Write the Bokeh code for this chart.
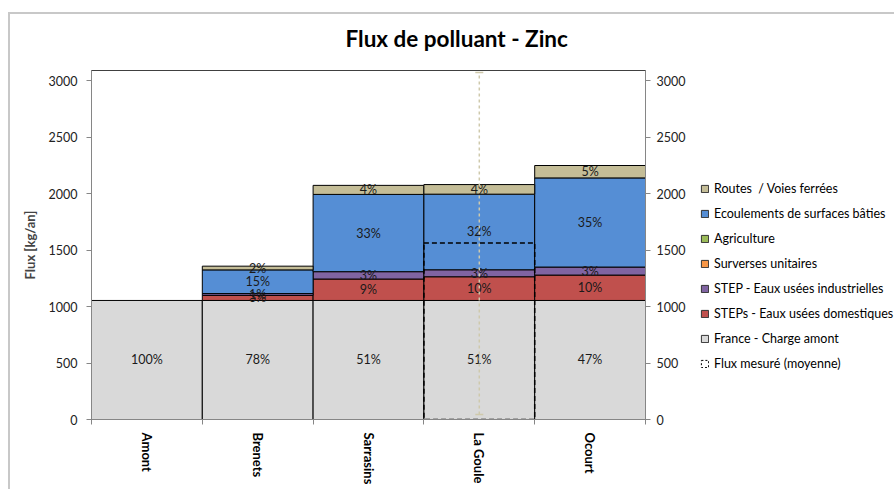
import numpy as np
from bokeh.plotting import figure
from bokeh.layouts import row
from bokeh.models import (ColumnDataSource, Range1d, LinearAxis, FixedTicker, Legend,
                          LegendItem, Whisker, TeeHead, InlineStyleSheet)
from bokeh.core.properties import value
from bokeh.embed import file_html
from bokeh.resources import INLINE

# ---------------- data ----------------
categories = ["Amont", "Brenets", "Sarrasins", "La Goule", "Ocourt"]
france_amont = [1055, 1055, 1055, 1055, 1055]
steps_domestiques = [0, 45, 190, 210, 225]
step_industrielles = [0, 16, 65, 62, 71]
surverses = [0, 0, 0, 0, 0]
agriculture = [0, 0, 0, 0, 0]
ecoulements = [0, 210, 685, 670, 790]
routes = [0, 33, 80, 85, 110]

mesure_site = ["La Goule"]
mesure_moyenne = [1565]
mesure_bas = [45]
mesure_haut = [3075]

y_ticks = [0, 500, 1000, 1500, 2000, 2500, 3000]

series_names = ["France - Charge amont", "STEPs - Eaux usées domestiques",
                "STEP - Eaux usées industrielles", "Surverses unitaires",
                "Agriculture", "Ecoulements de surfaces bâties",
                "Routes  / Voies ferrées"]
series_values = [france_amont, steps_domestiques, step_industrielles, surverses,
                 agriculture, ecoulements, routes]
series_colors = ["#D9D9D9", "#C0504D", "#8064A2", "#F79646", "#9BBB59",
                 "#558ED5", "#C4BD97"]

FONT = "Lato"
H = 489
W1 = 690
W2 = 204

# ---------------- sources ----------------
xs = list(range(len(categories)))
keys = ["s%d" % i for i in range(len(series_values))]
akeys = ["a%d" % i for i in range(len(series_values))]
data = {"x": xs}
for k, a, v in zip(keys, akeys, series_values):
    data[k] = v
    data[a] = [1.0 if float(t) > 0 else 0.0 for t in v]
src = ColumnDataSource(data)

totals = np.sum(np.array(series_values, dtype=float), axis=0)
lab_x, lab_y, lab_t = [], [], []
for ci in range(len(categories)):
    bottom = 0.0
    for v in series_values:
        val = float(v[ci])
        if val > 0:
            lab_x.append(xs[ci])
            lab_y.append(bottom + val / 2.0)
            lab_t.append("%d%%" % round(100.0 * val / totals[ci]))
        bottom += val
lab_src = ColumnDataSource(dict(x=lab_x, y=lab_y, t=lab_t))

mx = [categories.index(c) for c in mesure_site]
m_src = ColumnDataSource(dict(x=mx, top=mesure_moyenne, lo=mesure_bas, hi=mesure_haut))

# ---------------- main figure ----------------
p = figure(width=W1, height=H, output_backend="svg", toolbar_location=None,
           x_range=Range1d(-0.5, len(categories) - 0.5), y_range=Range1d(0, 3093),
           min_border_left=91, min_border_right=W1 - 91 - 554, min_border_top=70,
           min_border_bottom=H - 70 - 349, x_axis_type=None, y_axis_type=None)
p.outline_line_color = "#404040"
p.outline_line_width = 1

p.title.text = "Flux de polluant - Zinc"
p.title.align = "left"
p.title.offset = 254
p.title.text_font = FONT
p.title.text_font_size = "22.5px"
p.title.text_font_style = "bold"
p.title.text_color = "#000000"
p.title.standoff = 38

def style_y(ax):
    ax.ticker = FixedTicker(ticks=y_ticks, minor_ticks=[])
    ax.axis_line_color = "#868686"
    ax.major_tick_line_color = "#868686"
    ax.major_tick_out = 5
    ax.major_tick_in = 0
    ax.minor_tick_line_color = None
    ax.major_label_text_font = FONT
    ax.major_label_text_font_size = "12.5px"
    ax.major_label_text_color = "#222222"

yl = LinearAxis(axis_label="Flux [kg/an]")
style_y(yl)
yl.major_label_standoff = 9
yl.axis_label_text_font = FONT
yl.axis_label_text_font_size = "13px"
yl.axis_label_text_font_style = "bold"
yl.axis_label_standoff = 8
p.add_layout(yl, "left")

yr = LinearAxis()
style_y(yr)
yr.major_label_standoff = 6
p.add_layout(yr, "right")

xa = LinearAxis()
xa.ticker = FixedTicker(ticks=xs, minor_ticks=[i - 0.5 for i in range(len(categories) + 1)])
xa.major_label_overrides = {i: c for i, c in zip(xs, categories)}
xa.major_label_orientation = "vertical"
xa.major_tick_line_color = None
xa.major_tick_out = 0
xa.major_tick_in = 0
xa.minor_tick_line_color = "#868686"
xa.minor_tick_out = 5
xa.minor_tick_in = 0
xa.axis_line_color = "#868686"
xa.major_label_standoff = 8
xa.major_label_text_font = FONT
xa.major_label_text_font_size = "13px"
xa.major_label_text_font_style = "bold"
xa.major_label_text_color = "#000000"
p.add_layout(xa, "below")

p.ygrid.ticker = FixedTicker(ticks=y_ticks)
p.ygrid.grid_line_color = "#A6A6A6"
p.xgrid.grid_line_color = None

p.vbar_stack(keys, x="x", width=1.0, source=src, fill_color=series_colors,
             line_color="black", line_width=1, line_alpha=akeys)

p.text(x="x", y="y", text="t", source=lab_src, text_align="center",
       text_baseline="middle", text_font=value(FONT), text_font_size="12.5px",
       text_color="#1a1a1a")

p.vbar(x="x", top="top", bottom=0, width=1.0, source=m_src, fill_alpha=0,
       line_color="black", line_dash="5 3", line_width=1.5)

wh = Whisker(base="x", upper="hi", lower="lo", source=m_src, line_color="#CFC9AC",
             line_dash="3 3", line_width=1.5, level="overlay",
             upper_head=TeeHead(size=8, line_color="#CFC9AC", line_width=1.5),
             lower_head=TeeHead(size=8, line_color="#CFC9AC", line_width=1.5))
p.add_layout(wh)

# ---------------- legend panel ----------------
p2 = figure(width=W2, height=H, output_backend="svg", toolbar_location=None,
            x_range=Range1d(0, 1), y_range=Range1d(0, 1), min_border=0,
            x_axis_type=None, y_axis_type=None)
p2.outline_line_color = None

hidden = ColumnDataSource(dict(x=[5], top=[5]))
items = []
for n, c in list(zip(series_names, series_colors))[::-1]:
    r = p2.vbar(x="x", top="top", bottom=4, width=1, source=hidden, fill_color=c,
                line_color="#333333", line_width=1)
    items.append(LegendItem(label=n, renderers=[r]))
rm = p2.vbar(x="x", top="top", bottom=4, width=1, source=hidden, fill_alpha=0,
             line_color="black", line_dash="2 2", line_width=1)
items.append(LegendItem(label="Flux mesuré (moyenne)", renderers=[rm]))

leg = Legend(items=items, location=(10, 48), orientation="vertical",
             glyph_width=9, glyph_height=9, label_height=14, spacing=10,
             label_standoff=5, padding=0, margin=0,
             label_text_font=FONT, label_text_font_size="12.5px",
             label_text_color="#000000", border_line_color=None,
             background_fill_alpha=0)
p2.add_layout(leg, "center")

# outer chart border (light grey, top and left edges)
p.stylesheets = [InlineStyleSheet(css=":host{position:relative;} :host::after{content:'';position:absolute;left:8px;top:12px;right:0;bottom:0;border-top:2px solid #C8C8C8;border-left:2px solid #C8C8C8;pointer-events:none;z-index:10;}")]
p2.stylesheets = [InlineStyleSheet(css=":host{position:relative;} :host::after{content:'';position:absolute;left:0;top:12px;right:0;height:0;border-top:2px solid #C8C8C8;pointer-events:none;z-index:10;}")]

layout = row(p, p2)
open("out.html", "w").write(file_html(layout, INLINE))
